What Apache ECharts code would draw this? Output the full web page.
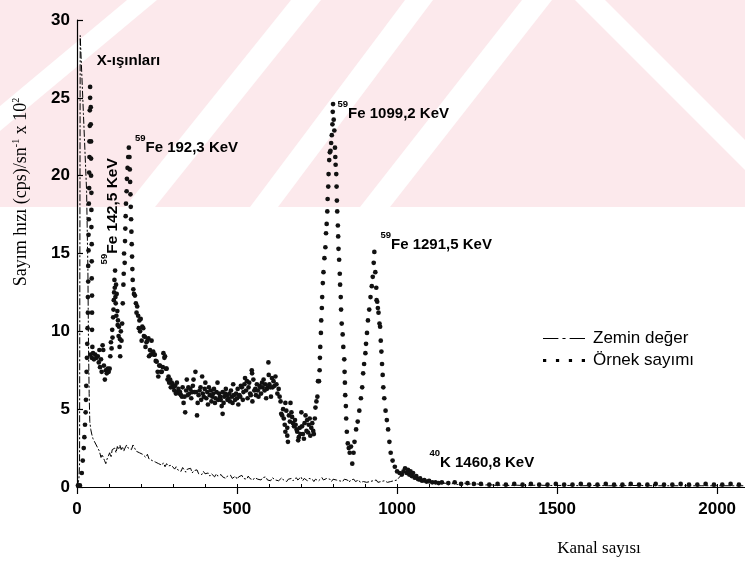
<!DOCTYPE html>
<html>
<head>
<meta charset="utf-8">
<script src="https://cdn.jsdelivr.net/npm/echarts@6.0.0/dist/echarts.min.js"></script>
<style>
  html, body { margin: 0; padding: 0; background: #fff; }
  #chart { width: 745px; height: 566px; }
</style>
</head>
<body>
<div id="chart"></div>
<script>
// Gamma spectrum: count rate (cps x 10^2) against channel number.

const seriesNames = ['Zemin değer', 'Örnek sayımı'];

// Background run: [channel, rate]
const backgroundCounts = [
  [0,0],[4,0],[6,0.5],[8,1.5],[10,29],[20,24],[30,19],[34,14],[36,9],[38,6],[40,4.2],[43,3.7],[46,3.4],
  [50,3.1],[55,2.9],[60,2.7],[65,2.5],[70,2.3],[75,1.9],[78,2.1],[82,2.2],[86,1.7],[90,1.5],[94,1.8],
  [98,2.0],[102,2.2],[106,1.9],[110,2.4],[114,2.3],[118,2.5],[122,2.2],[126,2.6],[130,2.4],[134,2.7],
  [138,2.4],[142,2.6],[146,2.3],[150,2.5],[155,2.7],[160,2.5],[165,2.6],[170,2.4],[175,2.7],[180,2.5],
  [185,2.3],[190,2.4],[195,2.2],[200,2.3],[205,2.1],[210,2.2],[215,1.9],[220,2.1],[225,1.8],[230,1.9],
  [235,1.7],[240,1.8],[245,1.6],[250,1.7],[255,1.5],[260,1.6],[265,1.4],[270,1.55],[275,1.3],[280,1.5],
  [285,1.35],[290,1.25],[295,1.4],[300,1.3],[305,1.15],[310,1.3],[315,1.1],[320,1.2],[325,1.0],[330,1.25],
  [335,1.1],[340,0.95],[345,1.15],[350,1.05],[355,1.2],[360,0.9],[365,1.05],[370,0.95],[375,1.1],[380,0.85],
  [385,0.95],[390,0.8],[395,1.0],[400,0.85],[405,0.75],[410,0.9],[415,0.7],[420,0.85],[425,0.8],[430,0.65],
  [435,0.85],[440,0.7],[445,0.6],[450,0.8],[455,0.65],[460,0.75],[465,0.55],[470,0.7],[475,0.6],[480,0.75],
  [485,0.55],[490,0.65],[495,0.7],[500,0.5],[505,0.65],[510,0.6],[515,0.75],[520,0.55],[525,0.6],[530,0.5],
  [535,0.7],[540,0.55],[545,0.65],[550,0.45],[555,0.6],[560,0.7],[565,0.5],[570,0.55],[575,0.45],[580,0.6],
  [585,0.5],[590,0.65],[595,0.45],[600,0.55],[605,0.4],[610,0.6],[615,0.5],[620,0.45],[625,0.55],[630,0.4],
  [635,0.5],[640,0.6],[645,0.45],[650,0.5],[655,0.35],[660,0.5],[665,0.45],[670,0.55],[675,0.4],[680,0.5],
  [685,0.6],[690,0.45],[695,0.5],[700,0.65],[705,0.4],[710,0.55],[715,0.5],[720,0.4],[725,0.55],[730,0.45],
  [735,0.5],[740,0.35],[745,0.5],[750,0.55],[755,0.4],[760,0.5],[765,0.6],[770,0.45],[775,0.4],[780,0.55],
  [785,0.45],[790,0.5],[795,0.35],[800,0.5],[805,0.4],[810,0.45],[815,0.55],[820,0.4],[825,0.45],[830,0.35],
  [835,0.5],[840,0.4],[845,0.45],[850,0.3],[855,0.45],[860,0.4],[865,0.5],[870,0.35],[875,0.4],[880,0.45],
  [885,0.3],[890,0.4],[895,0.35],[900,0.45],[905,0.3],[910,0.4],[915,0.35],[920,0.3],[925,0.4],[930,0.35],
  [935,0.45],[940,0.3],[945,0.4],[950,0.35],[955,0.3],[960,0.4],[965,0.35],[970,0.3],[975,0.4],[980,0.35],
  [985,0.45],[990,0.4],[995,0.5],[1000,0.45],[1005,0.55],[1010,0.7],[1015,0.6],[1020,0.8],[1025,0.95],
  [1030,0.8],[1035,1.0],[1040,0.85],[1045,0.7],[1050,0.75],[1055,0.55],[1060,0.5],[1065,0.4],[1070,0.45],
  [1075,0.35],[1080,0.3],[1090,0.3],[1100,0.25],[1110,0.3],[1120,0.2],[1130,0.25],[1140,0.2],[1150,0.25],
  [1160,0.15],[1170,0.2],[1180,0.25],[1190,0.15],[1200,0.2],[1210,0.25],[1220,0.15],[1230,0.2],[1240,0.15],
  [1250,0.2],[1270,0.12],[1290,0.15],[1310,0.1],[1330,0.12],[1350,0.1],[1370,0.12],[1390,0.1],[1410,0.1],
  [1440,0.12],[1470,0.1],[1500,0.1],[1540,0.1],[1580,0.08],[1620,0.1],[1660,0.08],[1700,0.08],[1750,0.1],
  [1800,0.08],[1850,0.08],[1900,0.08],[1950,0.08],[2000,0.08],[2050,0.08],[2087,0.08]
];

// Sample run: [channel, rate]
const sampleCounts = [
  [3,0.1],[9,0.1],[15,0.9],[18,1.7],[21,2.5],[23,3.2],[25,4.0],[27,4.8],[28,5.6],[29,6.5],[30,7.4],
  [31,8.3],[32,9.2],[33,10.2],[34,11.2],[34,12.2],[35,13.2],[35,14.2],[36,15.2],[36,16.2],[37,17.2],
  [37,18.2],[38,19.2],[38,20.2],[39,21.2],[39,22.2],[40,23.2],[40,24.2],[41,25.0],[41,25.7],
  [43,24.4],[43,23.3],[44,22.2],[44,21.1],[44,20.0],[45,18.9],[45,17.8],[45,16.7],[46,15.6],[46,14.5],
  [46,13.4],[47,12.3],[47,11.2],[47,10.1],[48,9.0],
  [42,8.5],[46,8.3],[50,8.6],[53,8.2],[57,8.5],[61,8.3],[65,8.4],[68,8.0],[70,8.8],[72,7.7],[75,8.2],
  [77,7.4],[80,9.1],[82,8.8],[84,7.8],[87,6.9],[90,7.5],[93,7.3],[96,7.6],[99,7.4],[102,7.6],[104,8.4],
  [106,9.3],[108,8.9],[110,10.1],[111,9.6],[113,10.9],[114,11.4],[115,12.0],[116,12.5],[117,13.3],
  [118,12.8],[119,13.9],[120,12.2],[121,11.8],[122,13.0],[123,11.0],[124,12.4],[126,11.3],[127,10.4],
  [128,10.7],[130,9.7],[131,10.3],[133,9.0],[134,9.5],[135,8.4],[137,10.0],[139,9.4],[141,10.5],
  [143,11.8],[145,13.0],[146,13.7],[147,15.0],[149,14.4],[150,15.8],[151,16.6],[152,17.4],[153,18.2],
  [155,19.0],[156,19.8],[158,20.5],[160,21.2],[162,21.8],
  [164,21.2],[165,20.4],[166,19.6],[167,18.8],[168,18.0],[169,17.2],[170,16.4],[171,15.6],[172,14.8],
  [173,14.0],[174,13.3],[176,12.7],[178,12.4],[181,12.3],[184,11.8],[186,11.2],[188,11.6],[191,11.0],
  [193,10.2],[195,10.7],[197,10.0],[199,10.8],[202,9.4],[204,10.3],[207,10.2],[209,9.7],[212,9.65],
  [214,9.0],[217,9.3],[220,9.4],[223,9.55],[225,8.4],[228,8.8],[230,8.5],[233,9.4],[236,8.6],[238,8.7],
  [241,8.5],[243,8.5],[246,8.1],[249,8.05],[252,7.4],[254,7.1],[257,7.8],[259,7.8],[262,7.4],[265,7.4],
  [268,7.7],[270,8.6],[273,8.3],[275,8.4],[278,7.6],[280,7.6],[283,6.9],[286,7.1],[288,6.7],[291,6.9],
  [293,6.4],[296,6.7],[299,6.6],[301,6.4],[304,6.2],[307,6.5],[309,6.0],[312,6.7],[314,6.1],[317,6.3],
  [320,6.0],[322,6.1],[325,5.9],[328,5.8],[330,6.4],[333,5.4],[336,5.8],[338,4.8],[341,6.2],[343,6.9],
  [346,5.9],[348,6.4],[351,6.0],[354,6.3],[357,5.7],[360,6.1],[362,6.5],[364,6.9],[367,6.1],[370,7.4],
  [372,6.1],[375,4.6],[377,5.4],[380,5.9],[383,6.2],[386,6.4],[388,5.6],[391,7.1],[393,6.0],[396,5.8],
  [399,6.3],[401,6.7],[404,5.7],[407,6.1],[409,5.3],[412,6.4],[415,5.9],[418,6.2],[420,5.5],[423,5.8],
  [426,6.0],[428,6.3],[431,5.4],[433,5.7],[436,6.1],[439,6.7],[441,5.6],[444,6.0],[447,5.8],[449,5.6],
  [452,5.2],[455,4.7],[455,6.1],[458,5.4],[460,5.8],[463,6.0],[465,6.3],[468,5.9],[470,5.6],[473,5.7],
  [476,6.0],[478,5.5],[481,6.2],[484,5.8],[486,5.4],[488,6.6],[490,5.9],[494,5.6],[497,6.0],[500,5.7],
  [502,6.3],[504,5.3],[507,5.9],[510,5.8],[512,6.5],[515,6.4],[518,5.6],[520,6.1],[523,6.6],[525,7.0],
  [528,6.2],[531,6.8],[533,5.7],[536,6.4],[538,6.7],[541,6.0],[543,5.9],[546,7.5],[547,7.3],[548,5.5],
  [551,6.9],[554,6.2],[557,6.3],[559,5.9],[562,6.6],[565,6.2],[567,5.8],[570,6.5],[572,6.4],[575,6.0],
  [578,6.7],[580,6.4],[583,6.9],[586,6.2],[588,6.6],[591,5.7],[593,6.3],[596,6.4],[598,8.0],[599,7.2],
  [601,6.6],[604,6.4],[606,5.8],[609,7.0],[611,6.4],[614,6.8],[617,6.5],[620,7.1],[623,6.6],[626,6.0],
  [630,6.3],[633,5.8],[636,5.5],[638,4.7],[641,4.6],[644,5.0],[646,4.4],[649,4.0],[651,5.4],[651,3.55],
  [654,4.9],[657,3.8],[657,3.3],[659,2.9],[662,4.6],[665,4.2],[667,5.4],[670,4.8],[672,4.5],[675,4.1],
  [678,3.9],[681,4.3],[683,4.0],[686,3.7],[688,3.55],[691,3.0],[693,3.2],[696,3.8],[698,3.4],[701,4.8],
  [703,3.9],[706,3.4],[709,3.1],[711,4.1],[714,4.6],[717,3.6],[719,4.3],[722,3.5],[724,4.0],[727,4.4],
  [729,3.3],[732,3.8],[735,4.1],[738,3.6],[740,3.4],[743,4.4],[745,5.1],[748,5.5],[751,5.8],[753,6.8],
  [756,6.8],[758,7.5],[759,8.3],[760,9.0],[762,9.9],[763,10.7],[765,11.5],[766,12.2],[768,13.1],
  [770,13.8],[773,14.7],[776,15.4],[778,16.3],[780,16.9],[782,17.7],[783,18.5],[785,19.3],[786,20.1],
  [788,21.0],[790,21.5],[792,21.6],[794,22.1],[796,22.6],[798,23.3],[799,24.1],[800,24.6],[802,23.6],
  [804,22.9],[806,21.8],[807,21.2],[808,20.7],[810,20.1],[811,19.3],[812,18.4],[813,17.7],[815,16.8],
  [816,16.1],[817,15.3],[819,14.6],[821,13.7],[822,13.0],[824,12.2],[825,11.4],[827,10.5],[830,9.8],
  [832,9.0],[835,8.2],[836,7.4],[837,6.7],[838,5.9],[840,5.2],[841,4.4],[843,3.55],[846,2.8],[849,2.5],
  [852,2.2],[856,2.6],[860,1.5],[864,2.2],[867,2.9],[872,3.7],[877,4.2],[882,4.9],[887,5.7],[891,6.4],
  [894,7.3],[897,7.9],[901,8.6],[903,9.2],[906,9.9],[909,10.7],[913,11.4],[917,12.2],[921,12.9],
  [924,13.5],[927,14.4],[929,15.1],[932,13.8],[935,12.8],[936,12.0],[938,11.9],[940,11.5],[942,11.2],
  [945,10.5],[947,10.3],[949,9.4],[951,8.7],[953,7.9],[955,7.2],[957,6.4],[960,5.7],[964,4.9],[968,4.3],
  [972,3.7],[976,2.9],[980,2.2],[986,1.7],[993,1.3],[1000,1.0],[1008,0.9],[1015,0.8],[1020,1.0],
  [1025,1.2],[1030,0.9],[1034,1.1],[1038,0.8],[1042,1.0],[1046,0.7],[1050,0.9],[1055,0.6],[1060,0.7],
  [1066,0.5],[1072,0.55],[1078,0.4],[1085,0.45],[1092,0.35],[1100,0.4],[1110,0.3],[1120,0.3],[1130,0.25],
  [1140,0.3],[1160,0.25],[1180,0.3],[1200,0.2],[1220,0.25],[1240,0.2],[1262,0.2],[1288,0.15],[1314,0.2],
  [1340,0.15],[1366,0.2],[1392,0.15],[1418,0.2],[1444,0.15],[1470,0.15],[1496,0.2],[1522,0.15],
  [1548,0.15],[1574,0.2],[1600,0.15],[1626,0.15],[1652,0.2],[1678,0.15],[1704,0.15],[1730,0.2],
  [1756,0.15],[1782,0.15],[1808,0.2],[1834,0.15],[1860,0.15],[1886,0.2],[1912,0.15],[1938,0.15],
  [1964,0.2],[1990,0.15],[2016,0.15],[2042,0.2],[2068,0.15]
];

// Peak notes: isotope mass number, text, anchor in data units (channel, rate)
const noteIsotopes = ['', '59', '59', '59', '59', '40'];
const noteTexts = ['X-ışınları', 'Fe 192,3 KeV', 'Fe 142,5 KeV', 'Fe 1099,2 KeV', 'Fe 1291,5 KeV', 'K 1460,8 KeV'];
const noteAnchors = [[62, 27.6], [181, 22.0], [103, 14.3], [814, 24.2], [948, 15.8], [1101, 1.8]];
const noteVertical = [false, false, true, false, false, false];

const xTicks = { min: 0, max: 2087, major: 500, minor: 100 };
const yTicks = { min: 0, max: 30, step: 5 };

const SANS = '"Liberation Sans", Arial, sans-serif';
const SERIF = '"Liberation Serif", "Times New Roman", serif';

const chart = echarts.init(document.getElementById('chart'), null, { renderer: 'canvas' });

const option = {
  animation: false,
  backgroundColor: '#ffffff',
  grid: { left: 77, top: 20, right: 0, bottom: 79, containLabel: false },
  xAxis: [
    {
      type: 'value', min: xTicks.min, max: xTicks.max, interval: xTicks.major,
      axisLine: { show: true, lineStyle: { color: '#000', width: 1.2 } },
      axisTick: { show: true, inside: false, length: 7, lineStyle: { color: '#000', width: 1.2 } },
      axisLabel: {
        margin: 14, color: '#000', fontSize: 17, fontWeight: 'bold', fontFamily: SANS,
        showMaxLabel: false, formatter: v => String(v)
      },
      splitLine: { show: false }
    },
    {
      type: 'value', min: xTicks.min, max: xTicks.max, interval: xTicks.minor, position: 'bottom',
      axisLine: { show: false },
      axisTick: { show: true, inside: true, length: 3, lineStyle: { color: '#000', width: 1 } },
      axisLabel: { show: false },
      splitLine: { show: false }
    }
  ],
  yAxis: {
    type: 'value', min: yTicks.min, max: yTicks.max, interval: yTicks.step,
    axisLine: { show: true, lineStyle: { color: '#000', width: 1.2 } },
    axisTick: { show: true, inside: true, length: 6, lineStyle: { color: '#000', width: 1.2 } },
    axisLabel: { margin: 7, color: '#000', fontSize: 17, fontWeight: 'bold', fontFamily: SANS },
    splitLine: { show: false }
  },
  legend: {
    orient: 'vertical', left: 538, top: 325, itemGap: 5,
    itemWidth: 42, itemHeight: 3, symbolKeepAspect: false,
    textStyle: { color: '#000', fontSize: 17, fontFamily: SANS, padding: [0, 0, 0, 3] },
    data: [
      { name: seriesNames[0], icon: 'path://M0,0H0.01V3H0Z M0,1H15V2H0Z M19,1H22V2H19Z M26,1H41V2H26Z', itemStyle: { color: '#000' } },
      { name: seriesNames[1], icon: 'path://M0,0H3V3H0Z M12,0H15V3H12Z M24,0H27V3H24Z M36,0H39V3H36Z', itemStyle: { color: '#000' } }
    ]
  },
  series: [
    {
      name: seriesNames[0], type: 'line', data: backgroundCounts,
      showSymbol: false, symbol: 'none', z: 2,
      lineStyle: { color: '#000', width: 1, type: [7, 2, 2, 2] },
      itemStyle: { color: '#000' }
    },
    {
      name: seriesNames[1], type: 'scatter', data: sampleCounts,
      symbol: 'circle', symbolSize: 4.7, z: 3,
      itemStyle: { color: '#111', opacity: 1 }
    }
  ]
};

chart.setOption(option);

// Text layer: watermark background, axis titles and peak notes placed from data anchors.
function buildGraphics() {
  const g = [];
  // soft pink watermark band with white diagonal stripes
  g.push({ type: 'rect', z: -10, silent: true, shape: { x: 0, y: 0, width: 745, height: 207 }, style: { fill: '#fce9ec' } });
  const stripes = [
    [[127, 0], [157, 0], [0, 131], [0, 106]],
    [[291, 0], [321, 0], [155, 207], [125, 207]],
    [[405, 0], [433, 0], [278, 207], [250, 207]],
    [[522, 0], [552, 0], [390, 207], [360, 207]],
    [[575, 0], [605, 0], [745, 140], [745, 170]]
  ];
  stripes.forEach(p => g.push({ type: 'polygon', z: -9, silent: true, shape: { points: p }, style: { fill: '#ffffff' } }));

  // axis titles
  g.push({
    type: 'text', z: 10, x: 21, y: 192, rotation: Math.PI / 2,
    style: {
      text: '{t|Sayım hızı (cps)/sn}{s|-1}{t| x 10}{s|2}',
      align: 'center', verticalAlign: 'middle', fill: '#000',
      rich: {
        t: { fontFamily: SERIF, fontSize: 18, fill: '#000', lineHeight: 20 },
        s: { fontFamily: SERIF, fontSize: 10, fill: '#000', verticalAlign: 'top', lineHeight: 20 }
      }
    }
  });
  g.push({
    type: 'text', z: 10, x: 599, y: 549,
    style: { text: 'Kanal sayısı', fontFamily: SERIF, fontSize: 17, fill: '#000', align: 'center', verticalAlign: 'middle' }
  });

  // peak notes
  noteTexts.forEach((txt, i) => {
    const [px, py] = chart.convertToPixel({ xAxisIndex: 0, yAxisIndex: 0 }, noteAnchors[i]);
    const iso = noteIsotopes[i];
    const text = (iso ? '{s|' + iso + '}' : '') + '{t|' + txt + '}';
    const size = noteVertical[i] ? 15.5 : 15;
    g.push({
      type: 'text', z: 10, x: px, y: py, rotation: noteVertical[i] ? Math.PI / 2 : 0,
      style: {
        text, align: 'left', verticalAlign: 'middle', fill: '#000',
        rich: {
          t: { fontFamily: SANS, fontSize: size, fontWeight: 'bold', fill: '#000', lineHeight: 22, verticalAlign: 'bottom' },
          s: { fontFamily: SANS, fontSize: 9.5, fontWeight: 'bold', fill: '#000', lineHeight: 22, verticalAlign: 'top' }
        }
      }
    });
  });
  return g;
}

chart.setOption({ graphic: buildGraphics() });
</script>
</body>
</html>
